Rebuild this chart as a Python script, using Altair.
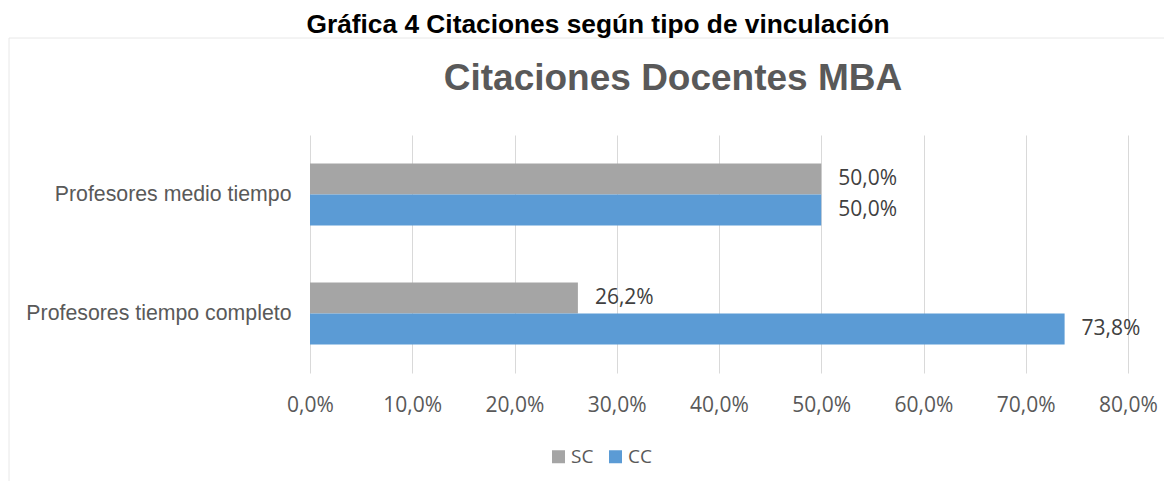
import altair as alt
import pandas as pd

categories = ["Profesores medio tiempo", "Profesores tiempo completo"]
series = ["SC", "CC"]
sc_values = [50.0, 26.2]
cc_values = [50.0, 73.8]
colors = ["#A5A5A5", "#5B9BD5"]
x_ticks = [0, 10, 20, 30, 40, 50, 60, 70, 80]
outer_title = "Gráfica 4 Citaciones según tipo de vinculación"
inner_title = "Citaciones Docentes MBA"

rows = []
for i, c in enumerate(categories):
    rows.append({"cat": c, "serie": "SC", "v": sc_values[i]})
    rows.append({"cat": c, "serie": "CC", "v": cc_values[i]})
df = pd.DataFrame(rows)

W, H = 818, 238

base = alt.Chart(df).transform_calculate(
    label="replace(format(datum.v, '.1f'), '.', ',') + '%'"
)

y_enc = alt.Y("cat:N", sort=categories, title=None,
              scale=alt.Scale(paddingInner=0.48, paddingOuter=0.24),
              axis=alt.Axis(domain=False, ticks=False, labelPadding=19,
                            labelFont="Liberation Sans", labelFontSize=21.3,
                            labelColor="#595959", labelLimit=400))
yoff = alt.YOffset("serie:N", sort=series, scale=alt.Scale(paddingInner=0, paddingOuter=0))
x_enc = alt.X("v:Q", title=None,
              scale=alt.Scale(domain=[0, 80], nice=False),
              axis=alt.Axis(values=x_ticks, domain=False, ticks=False,
                            grid=True, gridColor="#d9d9d9", gridWidth=1,
                            labelPadding=32, labelBaseline="middle",
                            labelFlush=False, labelOverlap=False,
                            labelFont="Open Sans", labelFontSize=21,
                            labelColor="#595959",
                            labelExpr="replace(format(datum.value, '.1f'), '.', ',') + '%'"))

bars = base.mark_bar().encode(
    x=x_enc, y=y_enc, yOffset=yoff,
    color=alt.Color("serie:N", sort=series,
                    scale=alt.Scale(domain=series, range=colors),
                    legend=alt.Legend(title=None, orient="none", direction="horizontal",
                                      legendX=239, legendY=312, padding=0,
                                      symbolType="square", symbolSize=169,
                                      symbolStrokeWidth=0, labelOffset=3,
                                      columnPadding=12,
                                      labelFont="Open Sans", labelFontSize=19,
                                      labelColor="#595959"))
)

labels = base.mark_text(align="left", baseline="middle", dx=17,
                        font="Open Sans", fontSize=21, color="#404040").encode(
    x="v:Q", y=alt.Y("cat:N", sort=categories), yOffset=alt.YOffset("serie:N", sort=series),
    text="label:N"
)

box = alt.Chart(pd.DataFrame({"a": [0]})).mark_rect(
    fill="transparent", stroke="#e8e8e8", strokeWidth=1
).encode(x=alt.value(-301), x2=alt.value(1200), y=alt.value(-97), y2=alt.value(700))

t1 = alt.Chart(pd.DataFrame({"t": [outer_title]})).mark_text(
    font="Liberation Sans", fontSize=26.3, fontWeight="bold", color="#000000",
    align="center", baseline="alphabetic"
).encode(x=alt.value(288), y=alt.value(-102), text="t:N")

t2 = alt.Chart(pd.DataFrame({"t": [inner_title]})).mark_text(
    font="Liberation Sans", fontSize=37, fontWeight="bold", color="#595959",
    align="center", baseline="alphabetic"
).encode(x=alt.value(363), y=alt.value(-45), text="t:N")

chart = alt.layer(box, bars, labels, t1, t2).properties(
    width=W, height=H,
    autosize=alt.AutoSizeParams(type="none"),
    padding={"left": 302, "top": 127, "right": 36, "bottom": 108},
    background="white"
).configure_view(stroke=None)

chart.save("out.html", embed_options={"renderer": "svg", "actions": False})
